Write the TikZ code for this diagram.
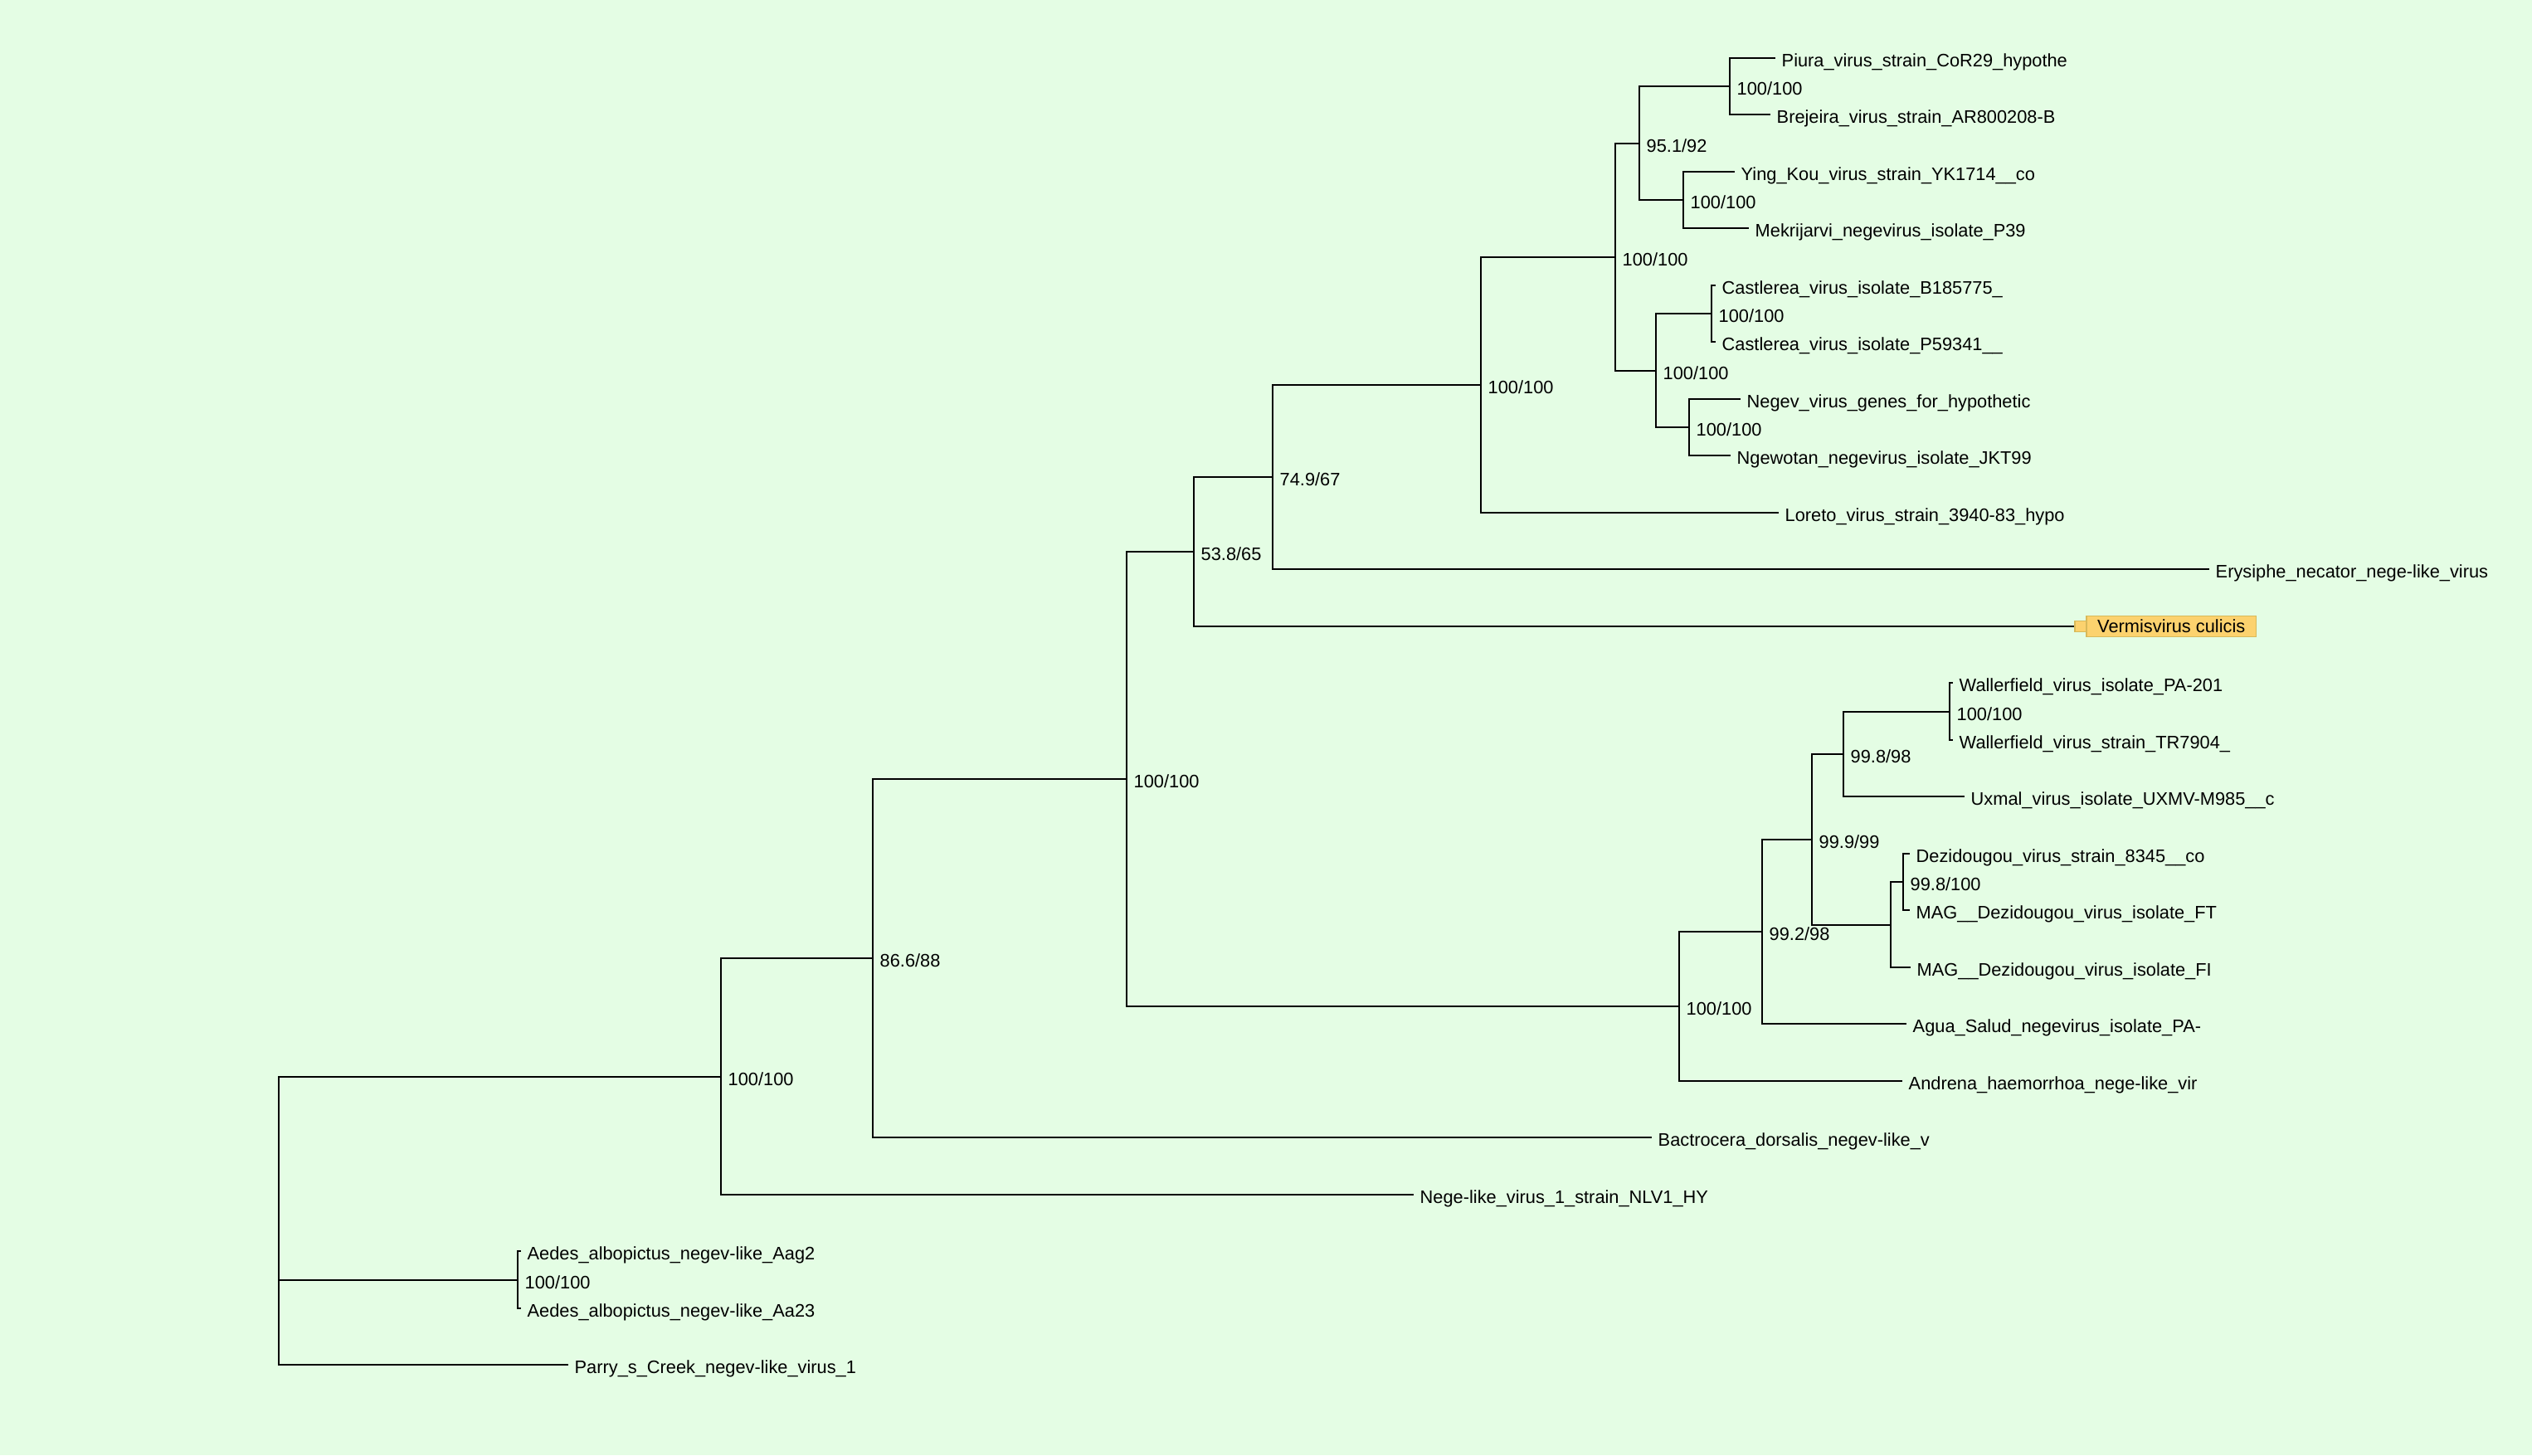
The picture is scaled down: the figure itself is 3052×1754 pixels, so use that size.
\documentclass[tikz,border=0pt]{standalone}
\usepackage{fontspec}
\setmainfont{Liberation Sans}
\newcommand{\treefont}{\fontsize{21.8}{26}\selectfont}
\definecolor{bggreen}{HTML}{E4FDE4}
\definecolor{hlfill}{HTML}{FCD26E}
\definecolor{hldraw}{HTML}{D7B95A}
\begin{document}
\begin{tikzpicture}[x=1pt,y=-1pt,
  branch/.style={draw=black, line width=2pt, line join=miter},
  leaflab/.style={anchor=base west, inner sep=0pt, xshift=7.5pt, yshift=-10.5pt, font=\treefont},
  bslab/.style={anchor=base west, inner sep=0pt, xshift=8.5pt, yshift=-10.5pt, font=\treefont},
  hlbox/.style={draw=hldraw, fill=hlfill, line width=1.5pt, inner sep=0pt, font=\treefont},
]
\fill[bggreen] (0,0) rectangle (3052,1754);
\useasboundingbox (0,0) rectangle (3052,1754);

% internal nodes
\coordinate (R)   at (336,1472);
\coordinate (N1)  at (869,1298);
\coordinate (N2)  at (1052,1155);
\coordinate (N3)  at (1358,939);
\coordinate (N4)  at (1439,665);
\coordinate (N5)  at (1534,575);
\coordinate (N6)  at (1785,464);
\coordinate (N7)  at (1947,310);
\coordinate (N8)  at (1976,173);
\coordinate (N8a) at (2085,104);
\coordinate (N8b) at (2029,241);
\coordinate (N9)  at (1996,447);
\coordinate (N9a) at (2063,378);
\coordinate (N9b) at (2036,515);
\coordinate (N11) at (2024,1213);
\coordinate (N12) at (2124,1123);
\coordinate (N13) at (2184,1012);
\coordinate (N14) at (2222,909);
\coordinate (N14a) at (2350,858);
\coordinate (N15) at (2279,1115);
\coordinate (N16) at (2294,1063);
\coordinate (NA)  at (624,1543);

% leaf ends
\coordinate (L0)  at (2140,70);
\coordinate (L1)  at (2134,138);
\coordinate (L2)  at (2091,207);
\coordinate (L3)  at (2108,275);
\coordinate (L4)  at (2068,344);
\coordinate (L5)  at (2068,412);
\coordinate (L6)  at (2098,481);
\coordinate (L7)  at (2086,549);
\coordinate (L8)  at (2144,618);
\coordinate (L9)  at (2663,686);
\node[hlbox, minimum size=13.3pt] (L10) at (2507.65,755) {};
\node[hlbox, anchor=west, minimum width=204.4pt, minimum height=25pt] (T10) at (2514.3,755) {Vermisvirus culicis};
\coordinate (L11) at (2354,823);
\coordinate (L12) at (2354,892);
\coordinate (L13) at (2368,960);
\coordinate (L14) at (2302,1029);
\coordinate (L15) at (2302,1097);
\coordinate (L16) at (2303,1166);
\coordinate (L17) at (2298,1234);
\coordinate (L18) at (2293,1303);
\coordinate (L19) at (1991,1371);
\coordinate (L20) at (1704,1440);
\coordinate (L21) at (628,1508);
\coordinate (L22) at (628,1577);
\coordinate (L23) at (685,1645);

% branches
\draw[branch] (R) |- (N1);
\draw[branch] (R) |- (NA);
\draw[branch] (R) |- (L23);
\draw[branch] (NA) |- (L21);
\draw[branch] (NA) |- (L22);
\draw[branch] (N1) |- (N2);
\draw[branch] (N1) |- (L20);
\draw[branch] (N2) |- (N3);
\draw[branch] (N2) |- (L19);
\draw[branch] (N3) |- (N4);
\draw[branch] (N3) |- (N11);
\draw[branch] (N4) |- (N5);
\draw[branch] (N4) |- (L10.west);
\draw[branch] (N5) |- (N6);
\draw[branch] (N5) |- (L9);
\draw[branch] (N6) |- (N7);
\draw[branch] (N6) |- (L8);
\draw[branch] (N7) |- (N8);
\draw[branch] (N7) |- (N9);
\draw[branch] (N8) |- (N8a);
\draw[branch] (N8) |- (N8b);
\draw[branch] (N8a) |- (L0);
\draw[branch] (N8a) |- (L1);
\draw[branch] (N8b) |- (L2);
\draw[branch] (N8b) |- (L3);
\draw[branch] (N9) |- (N9a);
\draw[branch] (N9) |- (N9b);
\draw[branch] (N9a) |- (L4);
\draw[branch] (N9a) |- (L5);
\draw[branch] (N9b) |- (L6);
\draw[branch] (N9b) |- (L7);
\draw[branch] (N11) |- (N12);
\draw[branch] (N11) |- (L18);
\draw[branch] (N12) |- (N13);
\draw[branch] (N12) |- (L17);
\draw[branch] (N13) |- (N14);
\draw[branch] (N13) |- (N15);
\draw[branch] (N14) |- (N14a);
\draw[branch] (N14) |- (L13);
\draw[branch] (N14a) |- (L11);
\draw[branch] (N14a) |- (L12);
\draw[branch] (N15) |- (N16);
\draw[branch] (N15) |- (L16);
\draw[branch] (N16) |- (L14);
\draw[branch] (N16) |- (L15);

% leaf labels
\node[leaflab] (T0)  at (L0)  {Piura\_virus\_strain\_CoR29\_hypothe};
\node[leaflab] (T1)  at (L1)  {Brejeira\_virus\_strain\_AR800208-B};
\node[leaflab] (T2)  at (L2)  {Ying\_Kou\_virus\_strain\_YK1714\_\_co};
\node[leaflab] (T3)  at (L3)  {Mekrijarvi\_negevirus\_isolate\_P39};
\node[leaflab] (T4)  at (L4)  {Castlerea\_virus\_isolate\_B185775\_};
\node[leaflab] (T5)  at (L5)  {Castlerea\_virus\_isolate\_P59341\_\_};
\node[leaflab] (T6)  at (L6)  {Negev\_virus\_genes\_for\_hypothetic};
\node[leaflab] (T7)  at (L7)  {Ngewotan\_negevirus\_isolate\_JKT99};
\node[leaflab] (T8)  at (L8)  {Loreto\_virus\_strain\_3940-83\_hypo};
\node[leaflab] (T9)  at (L9)  {Erysiphe\_necator\_nege-like\_virus};
\node[leaflab] (T11) at (L11) {Wallerfield\_virus\_isolate\_PA-201};
\node[leaflab] (T12) at (L12) {Wallerfield\_virus\_strain\_TR7904\_};
\node[leaflab] (T13) at (L13) {Uxmal\_virus\_isolate\_UXMV-M985\_\_c};
\node[leaflab] (T14) at (L14) {Dezidougou\_virus\_strain\_8345\_\_co};
\node[leaflab] (T15) at (L15) {MAG\_\_Dezidougou\_virus\_isolate\_FT};
\node[leaflab] (T16) at (L16) {MAG\_\_Dezidougou\_virus\_isolate\_FI};
\node[leaflab] (T17) at (L17) {Agua\_Salud\_negevirus\_isolate\_PA-};
\node[leaflab] (T18) at (L18) {Andrena\_haemorrhoa\_nege-like\_vir};
\node[leaflab] (T19) at (L19) {Bactrocera\_dorsalis\_negev-like\_v};
\node[leaflab] (T20) at (L20) {Nege-like\_virus\_1\_strain\_NLV1\_HY};
\node[leaflab] (T21) at (L21) {Aedes\_albopictus\_negev-like\_Aag2};
\node[leaflab] (T22) at (L22) {Aedes\_albopictus\_negev-like\_Aa23};
\node[leaflab] (T23) at (L23) {Parry\_s\_Creek\_negev-like\_virus\_1};

% support labels
\node[bslab] (B1)  at (N1)  {100/100};
\node[bslab] (B2)  at (N2)  {86.6/88};
\node[bslab] (B3)  at (N3)  {100/100};
\node[bslab] (B4)  at (N4)  {53.8/65};
\node[bslab] (B5)  at (N5)  {74.9/67};
\node[bslab] (B6)  at (N6)  {100/100};
\node[bslab] (B7)  at (N7)  {100/100};
\node[bslab] (B8)  at (N8)  {95.1/92};
\node[bslab] (B8a) at (N8a) {100/100};
\node[bslab] (B8b) at (N8b) {100/100};
\node[bslab] (B9)  at (N9)  {100/100};
\node[bslab] (B9a) at (N9a) {100/100};
\node[bslab] (B9b) at (N9b) {100/100};
\node[bslab] (B11) at (N11) {100/100};
\node[bslab] (B12) at (N12) {99.2/98};
\node[bslab] (B13) at (N13) {99.9/99};
\node[bslab] (B14) at (N14) {99.8/98};
\node[bslab] (B14a) at (N14a) {100/100};
\node[bslab] (B16) at (N16) {99.8/100};
\node[bslab] (BA)  at (NA)  {100/100};
\end{tikzpicture}
\end{document}
